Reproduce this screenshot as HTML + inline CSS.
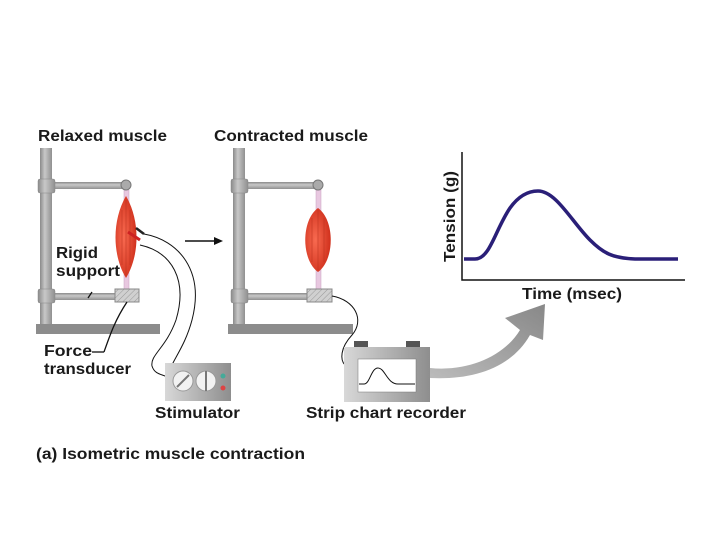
<!DOCTYPE html>
<html><head><meta charset="utf-8"><style>
html,body{margin:0;padding:0;background:#fff;width:720px;height:540px;overflow:hidden}
text{font-family:"Liberation Sans",Arial,sans-serif;font-weight:bold;fill:#1a1a1a}
</style></head><body>
<svg width="720" height="540" viewBox="0 0 720 540" xmlns="http://www.w3.org/2000/svg">
<defs>
<linearGradient id="pole" x1="0" x2="1"><stop offset="0" stop-color="#8a8a8a"/><stop offset=".4" stop-color="#c8c8c8"/><stop offset="1" stop-color="#909090"/></linearGradient>
<linearGradient id="bar" x1="0" y1="0" x2="0" y2="1"><stop offset="0" stop-color="#8a8a8a"/><stop offset=".4" stop-color="#c8c8c8"/><stop offset="1" stop-color="#909090"/></linearGradient>
<radialGradient id="mus" cx=".4" cy=".5" r=".6"><stop offset="0" stop-color="#f86a50"/><stop offset="1" stop-color="#d0301c"/></radialGradient>
<linearGradient id="box" x1="0" x2="1"><stop offset="0" stop-color="#d8d8d8"/><stop offset="1" stop-color="#8e8e8e"/></linearGradient>
<linearGradient id="garrow" x1="0" y1="1" x2="1" y2="0"><stop offset="0" stop-color="#bbb"/><stop offset="1" stop-color="#888"/></linearGradient>
<pattern id="hatch" width="4" height="4" patternUnits="userSpaceOnUse" patternTransform="rotate(45)"><rect width="4" height="4" fill="#d0d0d0"/><line x1="0" y1="0" x2="0" y2="4" stroke="#999" stroke-width="1"/></pattern>
</defs>

<text x="38" y="141" font-size="16" textLength="129" lengthAdjust="spacingAndGlyphs">Relaxed muscle</text>
<text x="214" y="141" font-size="16" textLength="154" lengthAdjust="spacingAndGlyphs">Contracted muscle</text>

<!-- Left stand -->
<rect x="36" y="324" width="124" height="10" fill="#8c8c8c"/>
<rect x="40" y="148" width="12" height="176" fill="url(#pole)"/>
<rect x="52" y="182" width="74" height="7" fill="url(#bar)"/>
<rect x="38" y="179" width="17" height="14" rx="2" fill="url(#pole)" stroke="#888" stroke-width=".5"/>
<rect x="52" y="293" width="64" height="7" fill="url(#bar)"/>
<rect x="38" y="289" width="17" height="14" rx="2" fill="url(#pole)" stroke="#888" stroke-width=".5"/>
<rect x="124" y="190" width="5" height="100" fill="#e8c8e0" stroke="#c8a0c0" stroke-width=".5"/>
<circle cx="126" cy="185" r="5" fill="#aaa" stroke="#777"/>
<path d="M126 196 C140 220 140 255 126 278 C112 255 112 220 126 196Z" fill="url(#mus)"/>
<path d="M122 210 L122 265 M126 200 L126 276 M130 210 L130 265" stroke="#b8301c" stroke-width=".5" fill="none"/>
<rect x="115" y="289" width="24" height="13" fill="url(#hatch)" stroke="#888"/>
<!-- electrodes -->
<path d="M128 232 L140 240" stroke="#c22" stroke-width="3"/>
<path d="M136 228 L144 234" stroke="#222" stroke-width="2.5"/>
<!-- stimulator wires -->
<path d="M144 234 C178 240 205 270 192 320 C184 350 170 362 168 377" stroke="#111" fill="none" stroke-width="1"/>
<path d="M140 245 C172 252 188 280 176 320 C166 348 150 355 152 366 C155 376 165 374 168 378" stroke="#111" fill="none" stroke-width="1"/>
<!-- force transducer leader -->
<path d="M127 302 C115 320 110 335 104 352" stroke="#111" fill="none" stroke-width="1.3"/>
<path d="M92 352 L104 352" stroke="#111" stroke-width="1.3"/>
<path d="M88 298 L92 292" stroke="#111" stroke-width="1.3"/>

<text x="56" y="258" font-size="16" textLength="42" lengthAdjust="spacingAndGlyphs">Rigid</text>
<text x="56" y="276" font-size="16" textLength="64" lengthAdjust="spacingAndGlyphs">support</text>
<text x="44" y="356" font-size="16" textLength="48" lengthAdjust="spacingAndGlyphs">Force</text>
<text x="44" y="374" font-size="16" textLength="87" lengthAdjust="spacingAndGlyphs">transducer</text>

<!-- arrow -->
<line x1="185" y1="241" x2="216" y2="241" stroke="#111" stroke-width="1.5"/>
<path d="M223 241 L214 237 L214 245Z" fill="#111"/>

<!-- Right stand -->
<rect x="228" y="324" width="125" height="10" fill="#8c8c8c"/>
<rect x="233" y="148" width="12" height="176" fill="url(#pole)"/>
<rect x="245" y="182" width="73" height="7" fill="url(#bar)"/>
<rect x="231" y="179" width="17" height="14" rx="2" fill="url(#pole)" stroke="#888" stroke-width=".5"/>
<rect x="245" y="293" width="63" height="7" fill="url(#bar)"/>
<rect x="231" y="289" width="17" height="14" rx="2" fill="url(#pole)" stroke="#888" stroke-width=".5"/>
<rect x="316" y="190" width="5" height="100" fill="#e8c8e0" stroke="#c8a0c0" stroke-width=".5"/>
<circle cx="318" cy="185" r="5" fill="#aaa" stroke="#777"/>
<path d="M318 208 C335 220 335 260 318 272 C301 260 301 220 318 208Z" fill="url(#mus)"/>
<path d="M312 218 L312 262 M318 210 L318 270 M324 218 L324 262" stroke="#b8301c" stroke-width=".5" fill="none"/>
<rect x="307" y="289" width="25" height="13" fill="url(#hatch)" stroke="#888"/>
<path d="M332 296 C355 300 365 320 352 335 C340 348 340 360 345 365" stroke="#111" fill="none" stroke-width="1"/>

<!-- Stimulator -->
<rect x="165" y="363" width="66" height="38" fill="url(#box)"/>
<circle cx="183" cy="381" r="10" fill="#f2f2f2" stroke="#999"/>
<path d="M177 387 L189 375" stroke="#777" stroke-width="2"/>
<circle cx="206" cy="381" r="10" fill="#f2f2f2" stroke="#999"/>
<path d="M206 371 L206 391" stroke="#777" stroke-width="2"/>
<circle cx="223" cy="376" r="2.5" fill="#4a9"/>
<circle cx="223" cy="388" r="2.5" fill="#d44"/>
<text x="155" y="418" font-size="16" textLength="85" lengthAdjust="spacingAndGlyphs">Stimulator</text>

<!-- Recorder -->
<rect x="354" y="341" width="14" height="6" fill="#555"/>
<rect x="406" y="341" width="14" height="6" fill="#555"/>
<rect x="344" y="347" width="86" height="55" fill="url(#box)"/>
<rect x="358" y="359" width="58" height="33" fill="#fff" stroke="#777" stroke-width=".5"/>
<path d="M359 384 L364 384 C370 384 371 368 378 368 C385 368 387 384 398 384 L415 384" stroke="#111" fill="none"/>
<text x="306" y="418" font-size="16" textLength="160" lengthAdjust="spacingAndGlyphs">Strip chart recorder</text>

<!-- big grey arrow -->
<path d="M430 368 C470 372 505 355 520 330 L505 318 L545 304 L543 340 L530 335 C510 370 470 380 430 378Z" fill="url(#garrow)"/>

<!-- Graph -->
<path d="M462 152 L462 280 L685 280" stroke="#111" stroke-width="1.5" fill="none"/>
<path d="M464 259 L475 259 C490 259 495 230 510 208 C520 194 530 191 538 191 C556 191 572 222 590 240 C603 253 612 258 635 259 L678 259" stroke="#2a1f78" stroke-width="3.5" fill="none"/>
<text x="522" y="299" font-size="16" textLength="100" lengthAdjust="spacingAndGlyphs">Time (msec)</text>
<text transform="translate(455,262) rotate(-90)" font-size="16" textLength="91" lengthAdjust="spacingAndGlyphs">Tension (g)</text>

<text x="36" y="459" font-size="16" textLength="269" lengthAdjust="spacingAndGlyphs">(a) Isometric muscle contraction</text>
</svg>
</body></html>
